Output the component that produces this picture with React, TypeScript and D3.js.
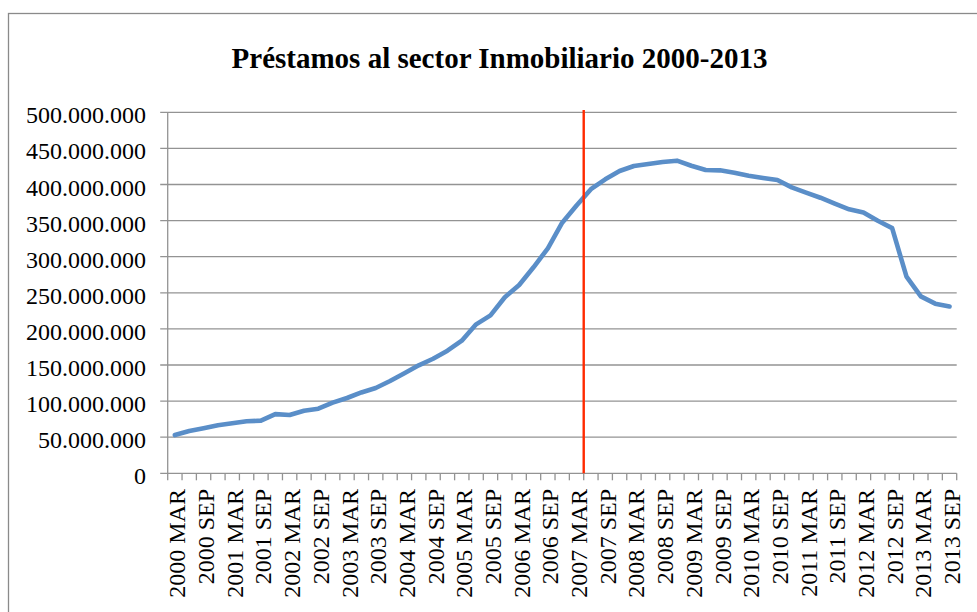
import React from 'react';
import * as d3 from 'd3';

// quarterly series, millions
const years = [2000, 2001, 2002, 2003, 2004, 2005, 2006, 2007, 2008, 2009, 2010, 2011, 2012, 2013];
const months = ['MAR', 'JUN', 'SEP', 'DIC'];
const categories = years.flatMap(y => months.map(m => `${y} ${m}`)).slice(0, 55);
const shownMonths = ['MAR', 'SEP'];

const loans = [
  53, 58.5, 62.3, 66.5, 69.2, 72, 73, 82, 80.7, 86.7,
  89.5, 97.8, 104.3, 112, 118.2, 127.8, 138.5, 149.6, 158.7, 169.8,
  183.7, 206.3, 218.8, 243.8, 260.8, 285.3, 311.6, 347.1, 371, 393.5,
  407.2, 418.7, 425.6, 428.4, 431.2, 433, 426, 420, 419.6, 416.4,
  412.2, 409, 406.2, 396, 388.7, 381.7, 373.4, 365.6, 361.3, 349.8,
  339.6, 272.3, 245, 235, 231,
].map(v => v * 1e6);

const yTicks = [0, 50, 100, 150, 200, 250, 300, 350, 400, 450, 500].map(v => v * 1e6);
const markerCategory = '2007 MAR';
const title = 'Préstamos al sector Inmobiliario 2000-2013';

const W = 977;
const H = 612;
const left = 167.7;
const right = 956.7;
const top = 112.3;
const bottom = 473.3;
const grid = '#939393';
const font = '"Liberation Serif", "Times New Roman", serif';

const fmt = (v: number) => (v === 0 ? '0' : d3.format(',')(v).replace(/,/g, '.'));

export default function App() {
  const x = d3.scaleBand<string>().domain(categories).range([left, right]).padding(0);
  const y = d3.scaleLinear().domain([0, 500e6]).range([bottom, top]);
  const bw = x.bandwidth();

  const line = d3.line<number>()
    .x((_, i) => (x(categories[i]) as number) + bw / 2)
    .y(d => y(d));

  const markerX = (x(markerCategory) as number) + bw;
  const boundaries = categories.map(c => x(c) as number).concat([right]);

  return (
    <svg width={W} height={H} style={{ position: 'absolute', left: 0, top: 0, background: '#fff' }}
      fontFamily={font}>
      {/* chart frame runs off the page */}
      <rect x={8.5} y={13.5} width={1000} height={700} fill="#fff" stroke="#8a8a8a" strokeWidth={1.3} />

      <text x={499.5} y={68} textAnchor="middle" fontSize={29} fontWeight="bold" fill="#000">{title}</text>

      {yTicks.map(t => (
        <g key={t}>
          <line x1={left - 7.5} x2={right} y1={y(t)} y2={y(t)} stroke={grid} strokeWidth={1.3} />
          <text x={146} y={y(t) + 11} textAnchor="end" fontSize={24} fill="#000">{fmt(t)}</text>
        </g>
      ))}

      <line x1={left} x2={left} y1={top} y2={bottom} stroke={grid} strokeWidth={1.3} />
      {boundaries.map((b, i) => (
        <line key={i} x1={b} x2={b} y1={bottom} y2={bottom + 7} stroke={grid} strokeWidth={1.3} />
      ))}

      {categories.map(c => {
        if (!shownMonths.includes(c.split(' ')[1])) return null;
        const cx = (x(c) as number) + bw / 2 + 10.5;
        return (
          <text key={c} transform={`translate(${cx},489) rotate(-90)`} textAnchor="end" fontSize={24} fill="#000">
            {c}
          </text>
        );
      })}

      <path d={line(loans) ?? ''} fill="none" stroke="#5a8ec8" strokeWidth={4.6}
        strokeLinejoin="round" strokeLinecap="round" />

      <line x1={markerX} x2={markerX} y1={110} y2={bottom} stroke="#ff2a00" strokeWidth={2.4} />
    </svg>
  );
}
